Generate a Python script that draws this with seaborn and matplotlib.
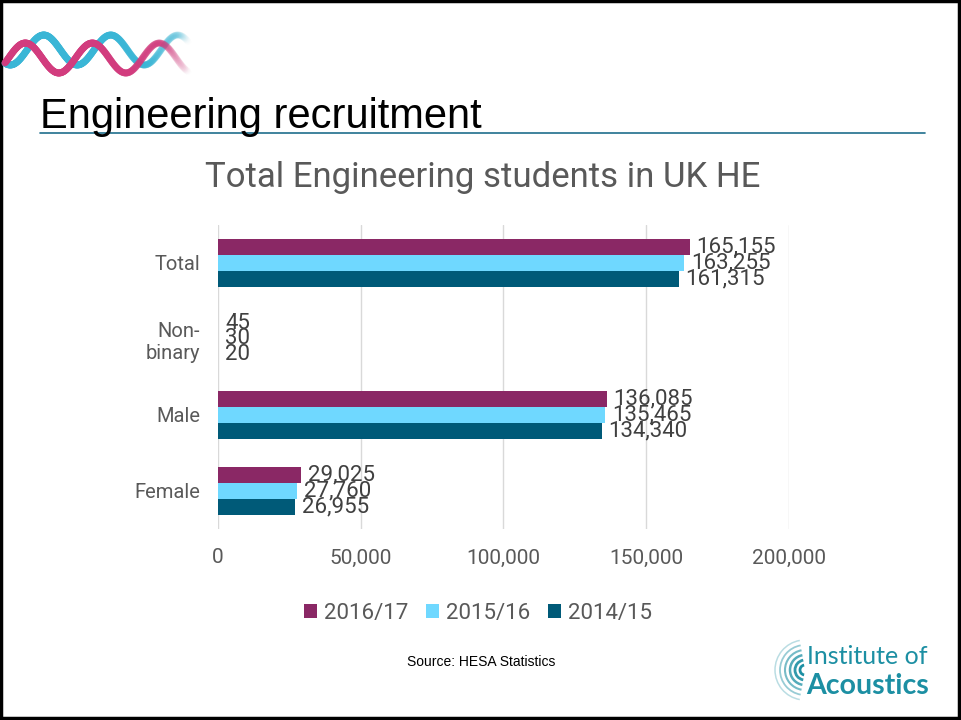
import numpy as np
import pandas as pd
import matplotlib
matplotlib.use("Agg")
import matplotlib.pyplot as plt
import seaborn as sns
from matplotlib.collections import LineCollection
from matplotlib.patches import Arc, Rectangle

categories = ["Total", "Non-\nbinary", "Male", "Female"]
years = ["2016/17", "2015/16", "2014/15"]
v_2016 = [165155, 45, 136085, 29025]
v_2015 = [163255, 30, 135465, 27760]
v_2014 = [161315, 20, 134340, 26955]
colors = ["#8A2865", "#6FD8FF", "#005A78"]

df = pd.DataFrame({
    "group": categories * 3,
    "year": [years[0]] * 4 + [years[1]] * 4 + [years[2]] * 4,
    "value": v_2016 + v_2015 + v_2014,
})

sns.set_theme(style="white")
plt.rcParams["font.family"] = ["Roboto", "DejaVu Sans"]
grey = "#595959"

fig = plt.figure(figsize=(9.61, 7.2), dpi=100)
fig.patch.set_facecolor("white")

# decoration layer in pixel coords
deco = fig.add_axes([0, 0, 1, 1], zorder=0)
deco.set_xlim(0, 961)
deco.set_ylim(720, 0)
deco.axis("off")
deco.add_patch(Rectangle((1, 1), 958, 717, fill=False, lw=2.5, ec="black"))

# wavy logo
xs = np.linspace(5, 215, 300)
for col, phase, yc in [("#3AB6D6", 0.0, 50), ("#D23C7E", np.pi * 0.55, 58)]:
    ys = yc - 15 * np.sin(2 * np.pi * (xs - 27) / 67 + phase)
    pts = np.array([xs, ys]).T.reshape(-1, 1, 2)
    segs = np.concatenate([pts[:-1], pts[1:]], axis=1)
    a = np.clip(0.9 - (xs[:-1] - 80) / 120, 0.0, 0.9)
    rgba = np.zeros((len(a), 4))
    rgba[:, :3] = matplotlib.colors.to_rgb(col)
    rgba[:, 3] = a
    deco.add_collection(LineCollection(segs, colors=rgba, linewidths=5, capstyle="round"))

deco.text(40, 117, "Engineering recruitment", fontsize=30, family="Liberation Sans",
          color="black", va="center", ha="left")
deco.plot([40, 925], [133, 133], color="#1F6E8C", lw=1.2)
deco.text(483, 178, "Total Engineering students in UK HE", fontsize=25, color=grey,
          ha="center", va="center")
deco.text(481, 662, "Source: HESA Statistics", fontsize=10, family="Liberation Sans",
          color="black", ha="center", va="center")

# Institute of Acoustics logo
teal = "#1C8FA3"
for r, lw, al in [(5, 2, 1.0), (10, 2, 0.9), (15, 1.8, 0.75), (20, 1.5, 0.6), (25, 1.3, 0.45), (30, 1.1, 0.3)]:
    deco.add_patch(Arc((805, 670), 2 * r, 2 * r, theta1=100, theta2=260, color=teal, lw=lw, alpha=al))
deco.text(807, 656, "Institute of", fontsize=18, color=teal, ha="left", va="center",
          family="Lato")
deco.text(806, 686, "Acoustics", fontsize=20.5, color=teal, ha="left", va="center",
          family="Lato", weight="bold")

# chart
ax = fig.add_axes([218 / 961, 1 - 529 / 720, (789 - 218) / 961, (529 - 225) / 720], zorder=1)
ax.patch.set_alpha(0)
sns.barplot(data=df, x="value", y="group", hue="year", order=categories, hue_order=years,
            palette=colors, saturation=1, orient="h", width=0.62, linewidth=0, ax=ax,
            legend=True)

ax.set_xlim(0, 200000)
ax.set_xticks([0, 50000, 100000, 150000, 200000])
ax.set_xticklabels(["0", "50,000", "100,000", "150,000", "200,000"])
ax.set_xlabel("")
ax.set_ylabel("")
ax.tick_params(axis="x", labelsize=15, colors=grey, length=0, pad=14)
ax.tick_params(axis="y", labelsize=14.5, colors=grey, length=0, pad=13)
for s in ax.spines.values():
    s.set_visible(False)
ax.xaxis.grid(True, color="#D9D9D9", lw=1)
ax.set_axisbelow(True)

for cont in ax.containers:
    ax.bar_label(cont, labels=[f"{int(v):,}" for v in cont.datavalues], padding=5,
                 fontsize=16, color="#404040")

handles, labels = ax.get_legend_handles_labels()
ax.legend(handles, labels, loc="center", bbox_to_anchor=(478 / 961, 1 - 613 / 720),
          bbox_transform=fig.transFigure, ncol=3, frameon=False, fontsize=16,
          labelcolor=grey, handlelength=0.6, handleheight=0.6, handletextpad=0.3,
          columnspacing=0.8)

fig.savefig("out.png", dpi=100)
